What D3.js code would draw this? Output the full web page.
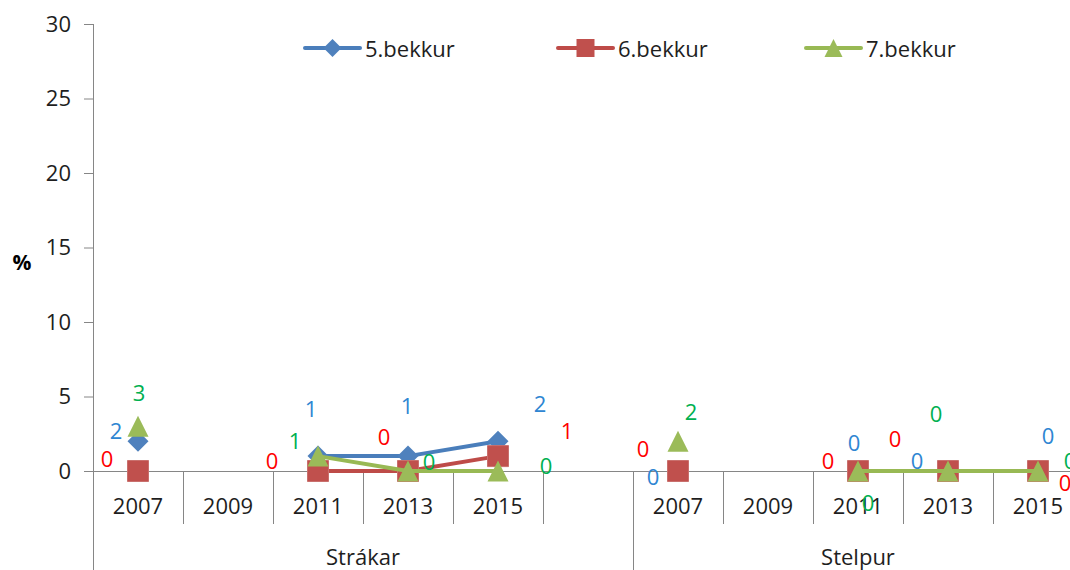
<!DOCTYPE html>
<html>
<head>
<meta charset="utf-8">
<script src="https://cdn.jsdelivr.net/npm/d3@7/dist/d3.min.js"></script>
<style>
  html, body { margin: 0; padding: 0; background: #fff; }
  svg { display: block; }
  text { font-family: "Open Sans", "Lato", sans-serif; }
</style>
</head>
<body>
<svg id="chart" width="1070" height="570"></svg>
<script>
// ---- data ----
const groups = ["Strákar", "Stelpur"];
const groupYears = [
  ["2007", "2009", "2011", "2013", "2015", ""],
  ["2007", "2009", "2011", "2013", "2015"]
];
const seriesNames = ["5.bekkur", "6.bekkur", "7.bekkur"];
const bekkur5 = [2, null, 1, 1, 2, null, 0, null, 0, 0, 0];
const bekkur6 = [0, null, 0, 0, 1, null, 0, null, 0, 0, 0];
const bekkur7 = [3, null, 1, 0, 0, null, 2, null, 0, 0, 0];
const yTicks = [0, 5, 10, 15, 20, 25, 30];

// ---- layout (label offsets in px, per series per category) ----
const labelOffsets = [
  [[-22,-11], null, [-7,-48], [-1,-51], [42,-38], null, [-25,5], null, [-4,-29], [-31,-11], [10,-36]],
  [[-31,-13], null, [-46,-11], [-24,-35], [69,-26], null, [-35,-23], null, [-30,-11], [-53,-33], [27,11]],
  [[1,-34], null, [-23,-16], [21,-10], [48,-6], null, [13,-30], null, [10,31], [-12,-58], [32,-11]]
];

const lineColors = ["#4A7EBB", "#BE4B48", "#98B954"];
const markColors = ["#4F81BD", "#C0504D", "#9BBB59"];
const labelColors = ["#2E86D2", "#FF0000", "#00B050"];
const markerTypes = ["diamond", "square", "triangle"];
const seriesValues = [bekkur5, bekkur6, bekkur7];

const svg = d3.select("#chart");
const plotLeft = 93, plotTop = 24, baseY = 471, catW = 90;

// category list
const cats = [];
groupYears.forEach((ys, gi) => ys.forEach((yr, yi) => cats.push({ id: gi + "_" + yi, group: gi, year: yr })));
const totalCats = cats.length;

const x = d3.scaleBand().domain(cats.map(c => c.id)).range([plotLeft, plotLeft + catW * totalCats]).padding(0);
const y = d3.scaleLinear().domain([0, 30]).range([baseY, plotTop]);

const axisColor = "#868686";
const textColor = "#1e1e1e";
const fontSize = 22;

// y axis
const yAxis = d3.axisLeft(y).tickValues(yTicks).tickSize(9).tickPadding(13);
const gy = svg.append("g").attr("transform", `translate(${plotLeft},0)`).call(yAxis);
gy.select(".domain").remove();
gy.selectAll(".tick line").attr("stroke", axisColor);
gy.selectAll(".tick text").attr("fill", textColor).style("font-size", fontSize + "px")
  .style("font-family", "'Open Sans', sans-serif");
svg.append("line").attr("x1", plotLeft + 0.5).attr("x2", plotLeft + 0.5).attr("y1", plotTop).attr("y2", 570)
  .attr("stroke", axisColor).attr("stroke-width", 1);

// % label
svg.append("text").attr("x", 22).attr("y", 262).attr("text-anchor", "middle").attr("dominant-baseline", "central")
  .attr("font-weight", "bold").attr("fill", "#000").style("font-size", "21px").text("%");

// x axis baseline
svg.append("line").attr("x1", plotLeft).attr("x2", x.range()[1]).attr("y1", baseY + 0.5).attr("y2", baseY + 0.5)
  .attr("stroke", axisColor).attr("stroke-width", 1.2);

// category separators and year labels
let idx = 0;
groupYears.forEach((ys, gi) => {
  ys.forEach((yr, yi) => {
    const c = cats[idx];
    const xb = x(c.id);
    const isGroupStart = yi === 0;
    if (idx > 0) {
      svg.append("line").attr("x1", xb + 0.5).attr("x2", xb + 0.5)
        .attr("y1", baseY).attr("y2", isGroupStart ? 570 : 524)
        .attr("stroke", axisColor).attr("stroke-width", 1);
    }
    if (yr) {
      svg.append("text").attr("x", xb + x.bandwidth() / 2).attr("y", 505)
        .attr("text-anchor", "middle").attr("dominant-baseline", "central")
        .attr("fill", textColor).style("font-size", fontSize + "px").text(yr);
    }
    idx++;
  });
});
// group labels
let start = 0;
groupYears.forEach((ys, gi) => {
  const x0 = x(cats[start].id);
  const x1 = x(cats[start + ys.length - 1].id) + x.bandwidth();
  svg.append("text").attr("x", (x0 + x1) / 2).attr("y", 556).attr("text-anchor", "middle").attr("dominant-baseline", "central")
    .attr("fill", textColor).style("font-size", fontSize + "px").text(groups[gi]);
  start += ys.length;
});
svg.append("line").attr("x1", x.range()[1] + 0.5).attr("x2", x.range()[1] + 0.5).attr("y1", baseY).attr("y2", 570)
  .attr("stroke", axisColor);

// marker paths
function markerPath(type, s) {
  const h = s / 2;
  if (type === "diamond") return `M0,${-h}L${h},0L0,${h}L${-h},0Z`;
  if (type === "square") return `M${-h},${-h}H${h}V${h}H${-h}Z`;
  return `M0,${-h}L${h},${h}L${-h},${h}Z`;
}

const cx = i => x(cats[i].id) + x.bandwidth() / 2;

// series
seriesValues.forEach((vals, si) => {
  const g = svg.append("g");
  const line = d3.line().defined(d => d.v !== null).x(d => cx(d.i)).y(d => y(d.v));
  const pts = vals.map((v, i) => ({ v, i }));
  g.append("path").attr("d", line(pts)).attr("fill", "none")
    .attr("stroke", lineColors[si]).attr("stroke-width", 4).attr("stroke-linejoin", "round").attr("stroke-linecap", "round");
  g.selectAll("path.m").data(pts.filter(d => d.v !== null)).join("path").attr("class", "m")
    .attr("transform", d => `translate(${cx(d.i)},${y(d.v)})`)
    .attr("d", markerPath(markerTypes[si], 21))
    .attr("fill", markColors[si]).attr("stroke", markerTypes[si] === "square" ? "#C9706D" : "none").attr("stroke-width", 1);
});

// data labels
seriesValues.forEach((vals, si) => {
  vals.forEach((v, i) => {
    if (v === null) return;
    const off = labelOffsets[si][i];
    svg.append("text").attr("x", cx(i) + off[0]).attr("y", y(v) + off[1])
      .attr("text-anchor", "middle").attr("dominant-baseline", "central")
      .attr("fill", labelColors[si]).style("font-size", fontSize + "px").text(v);
  });
});

// legend
const legendX = [305, 558, 806];
const legendY = 48;
seriesNames.forEach((name, si) => {
  const g = svg.append("g").attr("transform", `translate(${legendX[si]},${legendY})`);
  g.append("line").attr("x1", 0).attr("x2", 55).attr("y1", 0).attr("y2", 0)
    .attr("stroke", lineColors[si]).attr("stroke-width", 4).attr("stroke-linecap", "round");
  g.append("path").attr("transform", "translate(27.5,0)").attr("d", markerPath(markerTypes[si], 18))
    .attr("fill", markColors[si]);
  g.append("text").attr("x", 60).attr("y", 0).attr("dominant-baseline", "central")
    .attr("fill", textColor).style("font-size", fontSize + "px").text(name);
});
</script>
</body>
</html>
